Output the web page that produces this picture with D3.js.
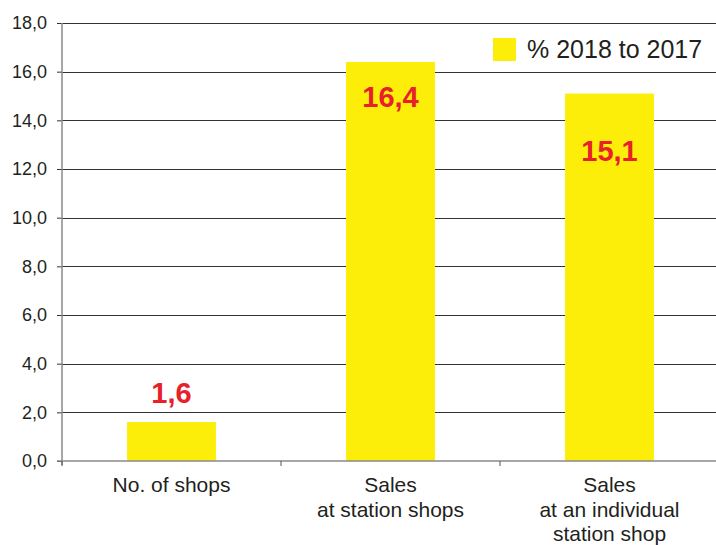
<!DOCTYPE html>
<html>
<head>
<meta charset="utf-8">
<script src="https://cdn.jsdelivr.net/npm/d3@7"></script>
<style>
  html, body { margin: 0; padding: 0; background: #fff; }
  svg { display: block; font-family: "Liberation Sans", Arial, sans-serif; }
</style>
</head>
<body>
<svg id="chart" width="716" height="545"></svg>
<script>
// Year-on-year change, % 2018 to 2017
const categories = [
  ["No. of shops"],
  ["Sales", "at station shops"],
  ["Sales", "at an individual", "station shop"]
];
const values = [1.6, 16.4, 15.1];
const valueLabels = ["1,6", "16,4", "15,1"];
const yTicks = [0, 2, 4, 6, 8, 10, 12, 14, 16, 18];
const seriesName = "% 2018 to 2017";

// label baseline offset from the bar top (negative = above the bar)
const labelOffsets = [-19, 45, 67];

const svg = d3.select("#chart");
const plotLeft = 62, plotRight = 719, plotTop = 23, plotBottom = 461;

const x = d3.scaleBand()
  .domain(d3.range(values.length))
  .range([plotLeft, plotRight])
  .paddingInner(0.594)
  .paddingOuter(0.297);

const y = d3.scaleLinear().domain([0, 18]).range([plotBottom, plotTop]);

const fmt = d => d.toFixed(1).replace(".", ",");

// left tick marks and labels
const yAxis = svg.append("g")
  .attr("transform", `translate(${plotLeft},0)`)
  .call(d3.axisLeft(y).tickValues(yTicks).tickFormat(fmt).tickSize(5).tickPadding(10));
yAxis.select(".domain").remove();
yAxis.selectAll(".tick line").attr("stroke", "#333");
yAxis.selectAll(".tick text")
  .attr("fill", "#231f20")
  .style("font-size", "18px")
  .style("font-family", "'Liberation Sans', Arial, sans-serif");

// horizontal gridlines
svg.append("g")
  .selectAll("line")
  .data(yTicks.filter(t => t > 0))
  .join("line")
  .attr("x1", plotLeft).attr("x2", 716)
  .attr("y1", d => Math.round(y(d)) + 0.5).attr("y2", d => Math.round(y(d)) + 0.5)
  .attr("stroke", "#333").attr("stroke-width", 1);

// bars
svg.append("g")
  .selectAll("rect")
  .data(values)
  .join("rect")
  .attr("x", (d, i) => x(i))
  .attr("width", x.bandwidth())
  .attr("y", d => y(d))
  .attr("height", d => plotBottom - y(d))
  .attr("fill", "#fdee0a");

// value labels
svg.append("g")
  .selectAll("text")
  .data(values)
  .join("text")
  .attr("x", (d, i) => x(i) + x.bandwidth() / 2)
  .attr("y", (d, i) => y(d) + labelOffsets[i])
  .attr("text-anchor", "middle")
  .attr("fill", "#e8202a")
  .style("font-size", "29px")
  .style("font-weight", "bold")
  .text((d, i) => valueLabels[i]);

// axis lines
svg.append("line")
  .attr("x1", plotLeft).attr("x2", plotLeft)
  .attr("y1", plotTop).attr("y2", plotBottom + 4)
  .attr("stroke", "#8a8a8a").attr("stroke-width", 1.5);
svg.append("line")
  .attr("x1", plotLeft - 5).attr("x2", 716)
  .attr("y1", plotBottom).attr("y2", plotBottom)
  .attr("stroke", "#8a8a8a").attr("stroke-width", 1.5);

// category boundary ticks
svg.append("g")
  .selectAll("line")
  .data(d3.range(values.length))
  .join("line")
  .attr("x1", i => x(i) - x.step() * x.paddingInner() / 2)
  .attr("x2", i => x(i) - x.step() * x.paddingInner() / 2)
  .attr("y1", plotBottom).attr("y2", plotBottom + 5)
  .attr("stroke", "#555").attr("stroke-width", 1);

// category labels
const cat = svg.append("g")
  .selectAll("text")
  .data(categories)
  .join("text")
  .attr("x", (d, i) => x(i) + x.bandwidth() / 2)
  .attr("y", 492)
  .attr("text-anchor", "middle")
  .attr("fill", "#231f20")
  .style("font-size", "21px");
cat.selectAll("tspan")
  .data(d => d)
  .join("tspan")
  .attr("x", function() { return this.parentNode.getAttribute("x"); })
  .attr("dy", (d, j) => j === 0 ? 0 : 24.6)
  .text(d => d);

// legend
const legend = svg.append("g");
legend.append("rect")
  .attr("x", 493).attr("y", 38).attr("width", 23).attr("height", 23)
  .attr("fill", "#fdee0a");
legend.append("text")
  .attr("x", 527).attr("y", 58)
  .attr("fill", "#231f20")
  .style("font-size", "25px")
  .text(seriesName);
</script>
</body>
</html>
